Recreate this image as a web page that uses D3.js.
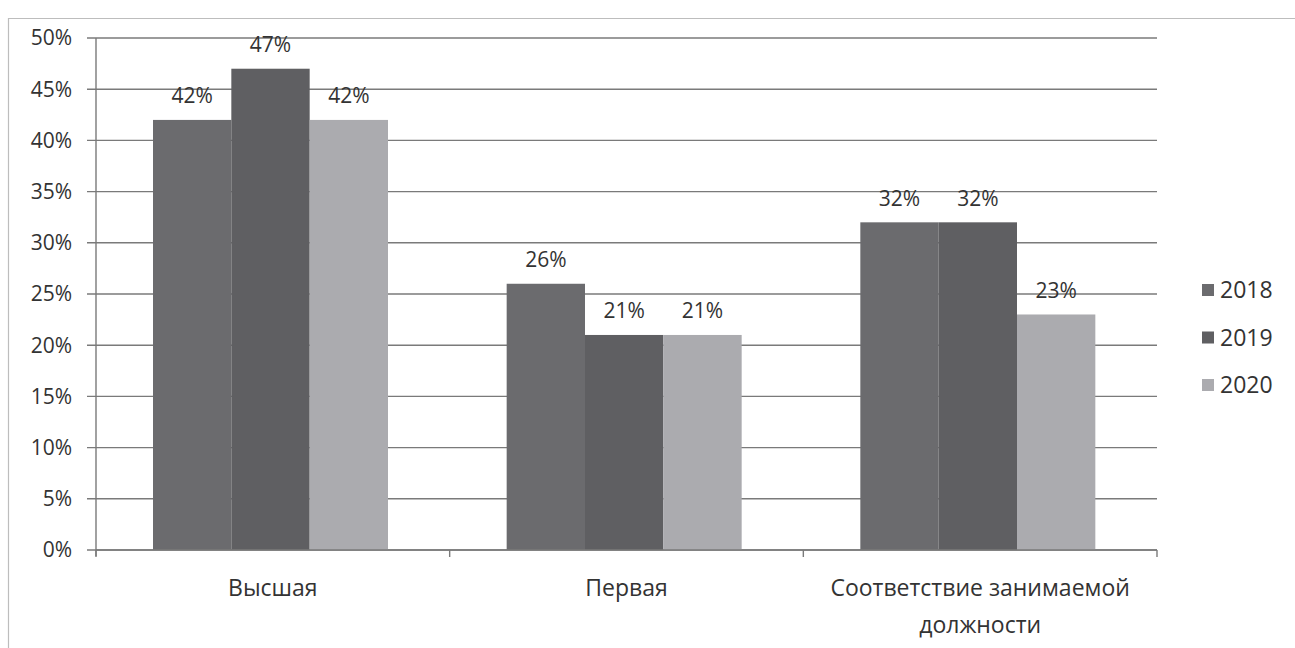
<!DOCTYPE html>
<html><head><meta charset="utf-8">
<script src="https://cdn.jsdelivr.net/npm/d3@7"></script>
<style>body{margin:0;background:#fff}svg{display:block}</style>
</head><body><svg id="c" width="1295" height="648"></svg>
<script>
const categories = ["Высшая", "Первая", "Соответствие занимаемой должности"];
const years = ["2018", "2019", "2020"];
const v2018 = [42, 26, 32];
const v2019 = [47, 21, 32];
const v2020 = [42, 21, 23];
const yTicks = [0, 5, 10, 15, 20, 25, 30, 35, 40, 45, 50];
const colors = ["#6b6b6e", "#5f5f62", "#ababaf"];

(function () {
const series = [v2018, v2019, v2020];
const svg = d3.select("#c");
const font = "'Open Sans', sans-serif";
const pL = 96, pR = 1157, pT = 38, pB = 550;

// outer frame
svg.append("path").attr("d", "M8.5,648 V18.5 H1295").attr("fill", "none").attr("stroke", "#bdbdbd").attr("stroke-width", 1.2);

const y = d3.scaleLinear().domain([0, 50]).range([pB, pT]);
const x0 = d3.scaleBand().domain(categories).range([pL, pR]);
const x1 = d3.scaleBand().domain(years).range([57, 292]);

// gridlines
svg.append("g").selectAll("line").data(yTicks).join("line")
  .attr("x1", pL - 9).attr("x2", pR).attr("y1", d => y(d)).attr("y2", d => y(d))
  .attr("stroke", "#7a7a7a").attr("stroke-width", 1.4);

// y axis line
svg.append("line").attr("x1", pL).attr("x2", pL).attr("y1", pT).attr("y2", pB + 6)
  .attr("stroke", "#7a7a7a").attr("stroke-width", 1.4);

// y labels
svg.append("g").selectAll("text").data(yTicks).join("text")
  .attr("x", 72).attr("y", d => y(d)).attr("dy", "0.35em").attr("text-anchor", "end")
  .attr("font-family", font).attr("font-size", 21).attr("fill", "#333")
  .text(d => d + "%");

// bars
const g = svg.append("g");
categories.forEach((c, i) => {
  years.forEach((yr, j) => {
    const v = series[j][i];
    g.append("rect").attr("x", x0(c) + x1(yr)).attr("width", x1.bandwidth())
      .attr("y", y(v)).attr("height", y(0) - y(v)).attr("fill", colors[j]);
    g.append("text").attr("x", x0(c) + x1(yr) + x1.bandwidth() / 2).attr("y", y(v) - 24)
      .attr("dy", "0.35em").attr("text-anchor", "middle")
      .attr("font-family", font).attr("font-size", 21).attr("fill", "#333")
      .text(v + "%");
  });
});

// x axis line and ticks
svg.append("line").attr("x1", pL).attr("x2", pR).attr("y1", pB).attr("y2", pB)
  .attr("stroke", "#7a7a7a").attr("stroke-width", 1.4);
const bounds = categories.map(c => x0(c)).concat([x0(categories[categories.length - 1]) + x0.bandwidth()]);
svg.append("g").selectAll("line").data(bounds).join("line")
  .attr("x1", d => d).attr("x2", d => d).attr("y1", pB).attr("y2", pB + 7)
  .attr("stroke", "#7a7a7a").attr("stroke-width", 1.4);

// category labels
const catLines = [["Высшая"], ["Первая"], ["Соответствие занимаемой", "должности"]];
categories.forEach((c, i) => {
  catLines[i].forEach((t, k) => {
    svg.append("text").attr("x", x0(c) + x0.bandwidth() / 2).attr("y", 588 + k * 37)
      .attr("dy", "0.35em").attr("text-anchor", "middle")
      .attr("font-family", font).attr("font-size", 23).attr("fill", "#333").text(t);
  });
});

// legend
years.forEach((yr, j) => {
  const ly = 290 + j * 47.5;
  svg.append("rect").attr("x", 1202).attr("y", ly - 6).attr("width", 12).attr("height", 12).attr("fill", colors[j]);
  svg.append("text").attr("x", 1220).attr("y", ly).attr("dy", "0.35em")
    .attr("font-family", font).attr("font-size", 23).attr("fill", "#333").text(yr);
});
})();
</script></body></html>
